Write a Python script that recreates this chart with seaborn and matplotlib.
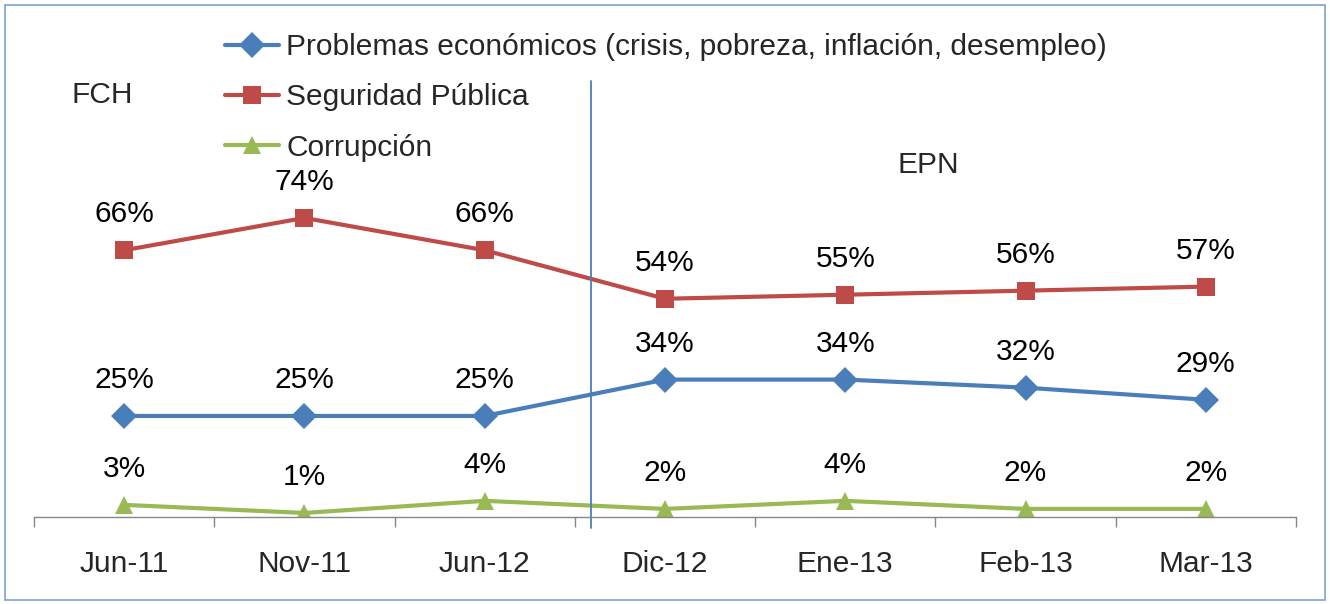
import matplotlib
matplotlib.use("Agg")
import matplotlib.pyplot as plt
import seaborn as sns
import pandas as pd
from matplotlib.patches import Rectangle

categories = ["Jun-11", "Nov-11", "Jun-12", "Dic-12", "Ene-13", "Feb-13", "Mar-13"]
series_names = ["Problemas económicos (crisis, pobreza, inflación, desempleo)",
                "Seguridad Pública", "Corrupción"]
economicos = [25, 25, 25, 34, 34, 32, 29]
seguridad = [66, 74, 66, 54, 55, 56, 57]
corrupcion = [3, 1, 4, 2, 4, 2, 2]
colors = ["#4A7EBB", "#BE4B48", "#98B954"]
markers = ["D", "s", "^"]

rows = []
for name, vals in zip(series_names, [economicos, seguridad, corrupcion]):
    for i, (c, v) in enumerate(zip(categories, vals)):
        rows.append({"pos": i, "cat": c, "serie": name, "val": v})
df = pd.DataFrame(rows)

sns.set_theme(style="white")
plt.rcParams["font.family"] = ["Liberation Sans", "DejaVu Sans"]

FS = 21.5

fig = plt.figure(figsize=(13.3, 6.04), dpi=100)
ax = fig.add_axes([34/1330, 87/604, 1262/1330, 485/604])

sns.lineplot(data=df, x="pos", y="val", hue="serie", style="serie",
             palette=dict(zip(series_names, colors)),
             markers=dict(zip(series_names, markers)), dashes=False,
             linewidth=3, markersize=13, markeredgewidth=0, ax=ax)

for name, vals in zip(series_names, [economicos, seguridad, corrupcion]):
    for i, v in enumerate(vals):
        ax.annotate(f"{v}%", xy=(i, v), xytext=(0, 36), textcoords="offset pixels",
                    ha="center", va="center", fontsize=FS, color="black")

ax.set_xlim(-0.5, 6.5)
ax.set_ylim(0, 120)
ax.set_xticks(range(len(categories)))
ax.set_xticklabels(categories, fontsize=FS)
ax.set_xticks([i - 0.5 for i in range(len(categories) + 1)], minor=True)
ax.tick_params(axis="x", which="major", length=0, pad=24, bottom=True)
ax.tick_params(axis="x", which="minor", length=7, width=1, color="#868686",
               direction="out", bottom=True)
ax.set_yticks([])
ax.set_xlabel("")
ax.set_ylabel("")
for s in ["top", "right", "left"]:
    ax.spines[s].set_visible(False)
ax.spines["bottom"].set_color("#868686")
ax.spines["bottom"].set_linewidth(1)

ax.axvline(2.589, ymin=-0.022, ymax=0.90, color="#4A7EBB", lw=1.3, clip_on=False)

ax.text(-0.12, 104.5, "FCH", fontsize=FS, ha="center", va="center")
ax.text(4.46, 87.1, "EPN", fontsize=FS, ha="center", va="center")

handles, labels = ax.get_legend_handles_labels()
ax.legend(handles, labels, loc="upper left", bbox_to_anchor=(225/1330, 1 - 33/604),
          bbox_transform=fig.transFigure, frameon=False, fontsize=FS,
          handlelength=1.8, handletextpad=0.25, labelspacing=0.75, borderaxespad=0,
          borderpad=0)

fig.patches.append(Rectangle((5/1330, 4/604), 1320/1330, 595/604, transform=fig.transFigure,
                             fill=False, edgecolor="#7FA3D2", lw=1.2))

fig.savefig("out.png", dpi=100)
